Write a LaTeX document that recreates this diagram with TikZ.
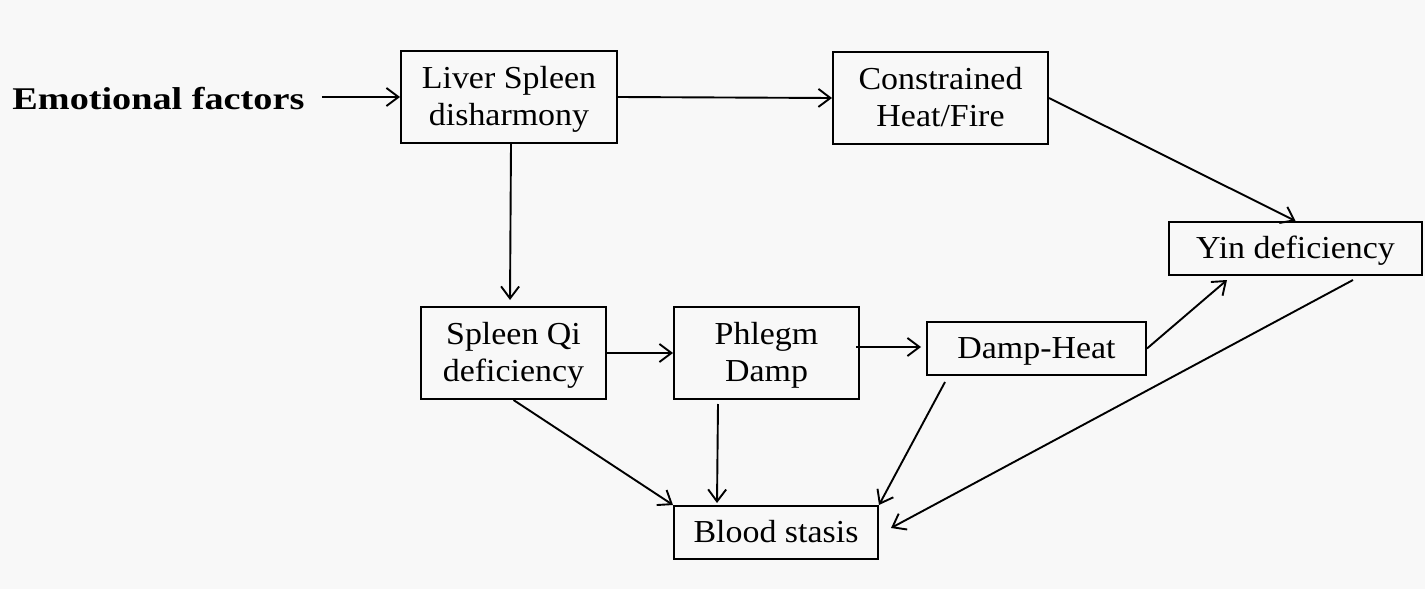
\documentclass[tikz,border=0pt]{standalone}
\usepackage{fontspec}
\setmainfont{Liberation Serif}[FakeStretch=1.06]
\newfontfamily\emofont{Liberation Serif}[FakeStretch=1.21]
\usetikzlibrary{arrows.meta, positioning, calc}
\definecolor{pagebg}{HTML}{F8F8F8}
\newcommand{\boxstrut}{\rule[-4pt]{0pt}{18pt}}
\tikzset{
    box/.style={
        rectangle,
        draw=black,
        line width=1pt,
        align=center,
        inner sep=0pt,
        font=\fontsize{16}{18.5}\selectfont
    },
    arrow/.style={
        line width=0.95pt,
        -{Straight Barb[length=6pt,width=9pt]}
    },
    label/.style={
        draw=none,
        inner sep=0pt,
        font=\fontsize{15.8}{19}\selectfont\emofont\bfseries
    },
}
\begin{document}
\begin{tikzpicture}[x=0.5pt,y=-0.5pt]

% background
\fill[pagebg] (0,0) rectangle (1425,589);
\useasboundingbox (0,0) rectangle (1425,589);

% Emotional factors
\node[label, anchor=base west] (emo) at (12,109) {Emotional factors};

% Liver Spleen disharmony
\node[box, minimum width=108pt, minimum height=46pt] (liver) at (509,97) {\boxstrut Liver Spleen\\\boxstrut disharmony};

% Constrained Heat/Fire
\node[box, minimum width=107.5pt, minimum height=46pt] (constr) at (940.5,98) {\boxstrut Constrained\\\boxstrut Heat/Fire};

% Yin deficiency
\node[box, minimum width=126.5pt, minimum height=26.5pt] (yin) at (1295.5,248.5) {\boxstrut Yin deficiency};

% Spleen Qi deficiency
\node[box, minimum width=92.5pt, minimum height=46pt] (spleenqi) at (513.5,353) {\boxstrut Spleen Qi\\\boxstrut deficiency};

% Phlegm Damp
\node[box, minimum width=92.5pt, minimum height=46pt] (phlegm) at (766.5,353) {\boxstrut Phlegm\\\boxstrut Damp};

% Damp-Heat
\node[box, minimum width=109.5pt, minimum height=26.5pt] (dampheat) at (1036.5,348.5) {\boxstrut Damp-Heat};

% Blood stasis
\node[box, minimum width=102pt, minimum height=26.5pt] (blood) at (776,532.5) {\boxstrut Blood stasis};

% Arrows
\draw[arrow] ([xshift=8.5pt]emo.east |- liver.west) -- (liver.west);
\draw[arrow] (liver.east) -- (constr.west);
\draw[arrow] (constr.east) -- (yin.north);
\draw[arrow] ([xshift=1pt]liver.south) -- ($(spleenqi.north west)+(90,-6)$);

\draw[arrow] (spleenqi.east) -- (phlegm.west);
\draw[arrow] ($(phlegm.east)+(-4,-6)$) -- ($(dampheat.west)+(-5,-1.5)$);
\draw[arrow] (dampheat.east) -- ($(yin.south west)+(59,4)$);

\draw[arrow] (spleenqi.south) -- (blood.north west);
\draw[arrow] ($(phlegm.south)+(-48.5,4)$) -- ($(blood.north west)+(44,-2)$);
\draw[arrow] ($(dampheat.south west)+(19,6)$) -- (blood.north east);
\draw[arrow] ($(yin.south)+(57.5,4)$) -- ($(blood.east)+(12,-4.5)$);

\end{tikzpicture}
\end{document}
